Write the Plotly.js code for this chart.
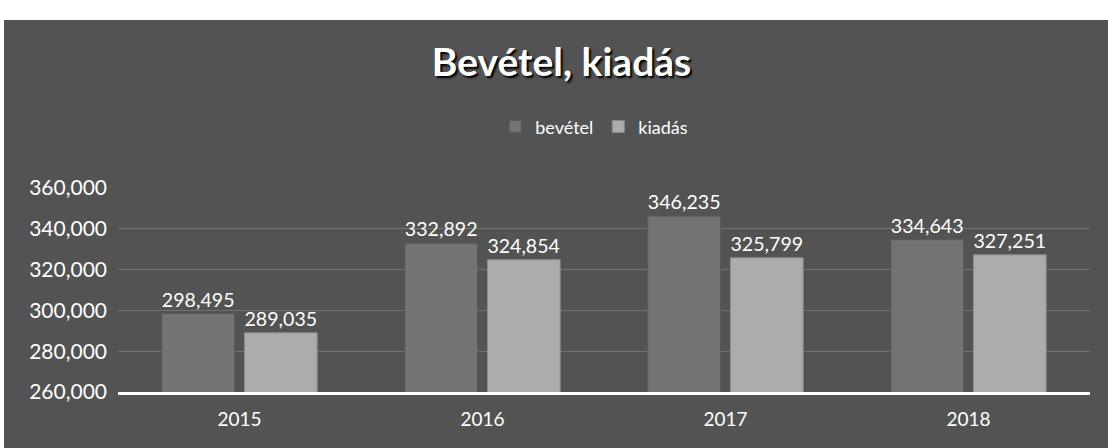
<!DOCTYPE html>
<html>
<head>
<meta charset="utf-8">
<script src="https://cdn.plot.ly/plotly-3.0.1.min.js"></script>
<style>
  html, body { margin: 0; padding: 0; background: #ffffff; width: 1118px; height: 448px; overflow: hidden; }
  #chart { position: absolute; left: 4px; top: 20px; width: 1104px; height: 428px; }
</style>
</head>
<body>
<div id="chart"></div>
<script>
const years = ['2015', '2016', '2017', '2018'];
const bevetel = [298495, 332892, 346235, 334643];
const kiadas = [289035, 324854, 325799, 327251];
const tickVals = [260000, 280000, 300000, 320000, 340000, 360000];

const fontFam = 'Lato, "Open Sans", sans-serif';
const traces = [
  {
    type: 'bar', name: 'bevétel', x: years, y: bevetel,
    marker: { color: '#737373', line: { color: '#5a5a5a', width: 1 } },
    text: bevetel, texttemplate: '%{y:,}', textposition: 'outside',
    textfont: { color: '#ffffff', size: 20, family: fontFam }, cliponaxis: false
  },
  {
    type: 'bar', name: 'kiadás', x: years, y: kiadas,
    marker: { color: '#acacac', line: { color: '#8a8a8a', width: 1 } },
    text: kiadas, texttemplate: '%{y:,}', textposition: 'outside',
    textfont: { color: '#ffffff', size: 20, family: fontFam }, cliponaxis: false
  }
];

const layout = {
  width: 1104, height: 428,
  paper_bgcolor: '#535353', plot_bgcolor: 'rgba(0,0,0,0)',
  margin: { l: 114, r: 18, t: 168, b: 56 },
  font: { family: fontFam, color: '#ffffff' },
  title: {
    text: '<b>Bevétel, kiadás</b>', x: 0.505, xanchor: 'center', y: 0.9, yanchor: 'middle',
    font: { size: 39, color: '#ffffff', family: fontFam, shadow: '2px 2px 2px #000000' }
  },
  showlegend: true,
  legend: {
    orientation: 'h', x: 0.49, xanchor: 'center', y: 1.30, yanchor: 'middle',
    font: { size: 18, color: '#ffffff' }, bgcolor: 'rgba(0,0,0,0)', itemwidth: 30
  },
  barmode: 'group', bargap: 0.32, bargroupgap: 0.12,
  xaxis: {
    type: 'category', showgrid: false, zeroline: false,
    showline: true, linecolor: '#ffffff', linewidth: 3,
    tickfont: { size: 19, color: '#ffffff' }, ticks: '', ticklabelstandoff: 8
  },
  yaxis: {
    range: [260000, 360000], tickvals: tickVals, tickformat: ',d',
    showgrid: true, gridcolor: 'rgba(255,255,255,0.18)', gridwidth: 1,
    zeroline: false, showline: false, ticks: '',
    tickfont: { size: 21, color: '#ffffff' }, ticklabelstandoff: 10
  }
};

Plotly.newPlot('chart', traces, layout, { displayModeBar: false, staticPlot: true });
</script>
</body>
</html>
